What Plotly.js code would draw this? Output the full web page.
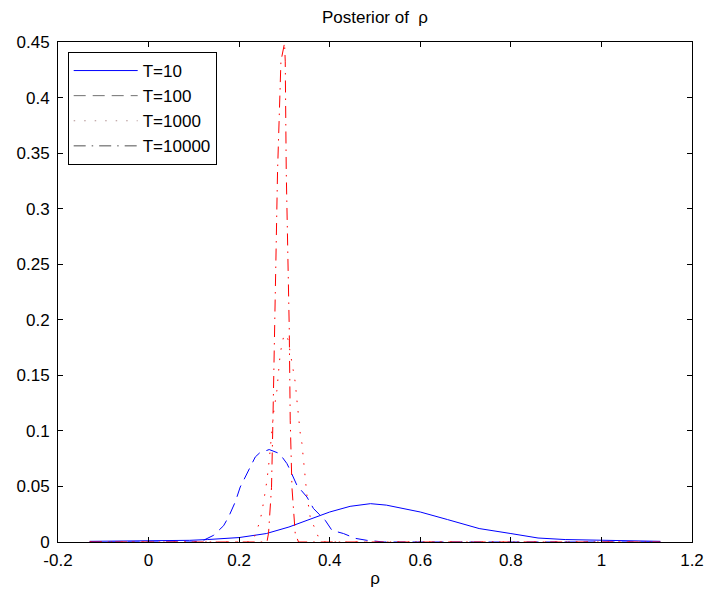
<!DOCTYPE html>
<html>
<head>
<meta charset="utf-8">
<script src="https://cdn.plot.ly/plotly-3.0.1.min.js"></script>
<style>html,body{margin:0;padding:0;background:#fff;}#chart{width:705px;height:598px;}</style>
</head>
<body>
<div id="chart"></div>
<script>
// ---- data ----
var seriesNames = ["T=10", "T=100", "T=1000", "T=10000"];

var xT10 = [-0.13, 0.0, 0.09, 0.13, 0.20, 0.26, 0.31, 0.35, 0.40, 0.445, 0.49, 0.525, 0.60, 0.66, 0.73, 0.80, 0.86, 0.92, 0.99, 1.06, 1.13];
var yT10 = [0.0006, 0.001, 0.0015, 0.0022, 0.004, 0.0076, 0.0135, 0.0195, 0.027, 0.0321, 0.0345, 0.0332, 0.027, 0.0202, 0.0121, 0.0076, 0.0036, 0.0022, 0.0015, 0.0009, 0.0006];

var xT100 = [-0.13, 0.10, 0.121, 0.1435, 0.1656, 0.1766, 0.1914, 0.2024, 0.2135, 0.2245, 0.2356, 0.245, 0.2664, 0.2892, 0.3055, 0.3128, 0.3276, 0.3497, 0.3642, 0.3901, 0.4049, 0.4305, 0.4563, 0.4821, 0.52, 1.13];
var yT100 = [0, 0, 0.0015, 0.006, 0.0146, 0.0225, 0.036, 0.0495, 0.0585, 0.0675, 0.0765, 0.0801, 0.0832, 0.0796, 0.0706, 0.0645, 0.051, 0.0405, 0.0301, 0.0195, 0.0105, 0.0076, 0.0033, 0.0015, 0, 0];

var xT1000 = [-0.13, 0.22, 0.2311, 0.2393, 0.2466, 0.2539, 0.2614, 0.2664, 0.2724, 0.2759, 0.2834, 0.2885, 0.2907, 0.298, 0.3025, 0.308, 0.3128, 0.3166, 0.3238, 0.3276, 0.3311, 0.3349, 0.3386, 0.3422, 0.3459, 0.3497, 0.357, 0.368, 0.3753, 0.3834, 1.13];
var yT1000 = [0, 0, 0.0015, 0.0105, 0.0195, 0.0357, 0.0555, 0.0735, 0.0978, 0.1158, 0.1366, 0.1609, 0.1698, 0.1845, 0.187, 0.182, 0.1698, 0.1609, 0.144, 0.1275, 0.1125, 0.0978, 0.0888, 0.0735, 0.0582, 0.042, 0.0222, 0.0105, 0.0042, 0, 0];

var xT10000 = [-0.13, 0.2614, 0.2649, 0.2715, 0.2746, 0.2781, 0.2848, 0.2923, 0.3002, 0.3018, 0.304, 0.3106, 0.3128, 0.3166, 0.3238, 0.3311, 1.13];
var yT10000 = [0, 0, 0.0078, 0.0492, 0.1095, 0.1932, 0.3337, 0.4327, 0.4489, 0.4327, 0.3337, 0.1932, 0.1095, 0.0492, 0.0078, 0, 0];

var xTickVals = [-0.2, 0, 0.2, 0.4, 0.6, 0.8, 1, 1.2];
var xTickText = ["-0.2", "0", "0.2", "0.4", "0.6", "0.8", "1", "1.2"];
var yTickVals = [0, 0.05, 0.1, 0.15, 0.2, 0.25, 0.3, 0.35, 0.4, 0.45];
var yTickText = ["0", "0.05", "0.1", "0.15", "0.2", "0.25", "0.3", "0.35", "0.4", "0.45"];

// ---- styles ----
var FONT = "Liberation Sans, Arial, Helvetica, sans-serif";
var FS = 17;
var DASH = "12px,7px";
var DOT = "1.5px,9px";
var DASHDOT = "12px,6px,1.5px,6px";

var curves = [
  {x: xT10, y: yT10, color: "#0000ff", dash: "solid"},
  {x: xT100, y: yT100, color: "#0000ff", dash: DASH},
  {x: xT1000, y: yT1000, color: "#ff0000", dash: DOT},
  {x: xT10000, y: yT10000, color: "#ff0000", dash: DASHDOT}
];
var legendStyles = [
  {color: "#0000ff", dash: "solid"},
  {color: "#707070", dash: DASH},
  {color: "#b09090", dash: DOT},
  {color: "#505050", dash: DASHDOT}
];

var traces = [];
curves.forEach(function (c, i) {
  traces.push({
    x: c.x, y: c.y, type: "scatter", mode: "lines", name: seriesNames[i],
    showlegend: false, hoverinfo: "skip",
    line: {color: c.color, width: 1, dash: c.dash}
  });
});
legendStyles.forEach(function (s, i) {
  traces.push({
    x: [null], y: [null], type: "scatter", mode: "lines", name: seriesNames[i],
    showlegend: true,
    line: {color: s.color, width: 1, dash: s.dash}
  });
});

var axisCommon = {
  showline: true, linecolor: "#000", linewidth: 1, mirror: "ticks",
  ticks: "inside", ticklen: 5, tickcolor: "#000", tickwidth: 1,
  showgrid: false, zeroline: false,
  tickfont: {family: FONT, size: FS, color: "#000"}
};

var layout = {
  width: 705, height: 598,
  margin: {l: 58, r: 13, t: 42, b: 56, pad: 0},
  paper_bgcolor: "#fff", plot_bgcolor: "#fff",
  font: {family: FONT, size: FS, color: "#000"},
  title: {
    text: "Posterior of\u00a0\u00a0ρ",
    font: {family: FONT, size: FS, color: "#000"},
    x: 0.5, xref: "paper", xanchor: "center",
    y: 1 - 17 / 598, yref: "container", yanchor: "middle"
  },
  xaxis: Object.assign({}, axisCommon, {
    range: [-0.2, 1.2], tickmode: "array", tickvals: xTickVals, ticktext: xTickText,
    ticklabelstandoff: 3,
    title: {text: "ρ", font: {family: FONT, size: FS, color: "#000"}, standoff: 2}
  }),
  yaxis: Object.assign({}, axisCommon, {
    range: [0, 0.45], tickmode: "array", tickvals: yTickVals, ticktext: yTickText,
    ticklabelstandoff: 4
  }),
  legend: {
    x: 0.0153, y: 0.98, xanchor: "left", yanchor: "top",
    bgcolor: "#fff", bordercolor: "#000", borderwidth: 1,
    font: {family: FONT, size: FS, color: "#000"},
    itemwidth: 64, tracegroupgap: 0
  },
  showlegend: true
};

Plotly.newPlot("chart", traces, layout, {staticPlot: true, displayModeBar: false});
</script>
</body>
</html>
